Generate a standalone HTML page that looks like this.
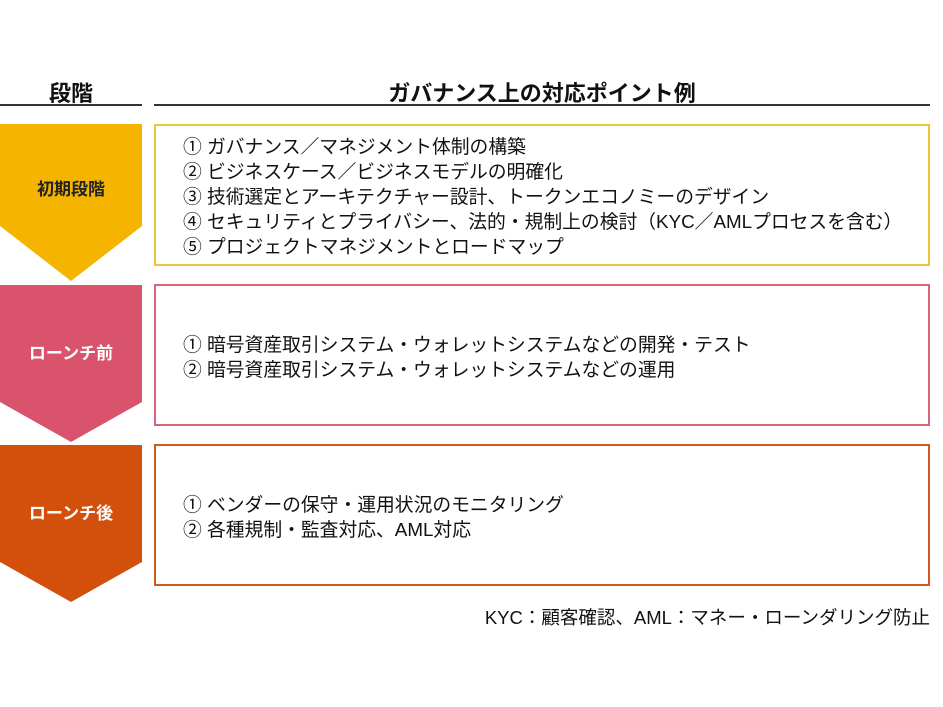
<!DOCTYPE html>
<html><head><meta charset="utf-8"><style>
body{margin:0;width:943px;height:707px;background:#fff;position:relative;overflow:hidden;font-family:"Liberation Sans","Noto Sans CJK JP",sans-serif;color:#111}
.t{position:absolute;white-space:nowrap}
.box{position:absolute;left:154px;width:772px;height:138px;border:2px solid}
.l{position:absolute;left:183px;font-size:18.8px;white-space:nowrap;line-height:25px}
</style></head><body>
<div class="t" style="left:0;width:142px;top:76px;text-align:center;font-size:22px;font-weight:bold">段階</div>
<div class="t" style="left:154px;width:776px;top:76px;text-align:center;font-size:22px;font-weight:bold">ガバナンス上の対応ポイント例</div>
<div style="position:absolute;left:0;top:104px;width:142px;height:2px;background:#333"></div>
<div style="position:absolute;left:154px;top:104px;width:776px;height:2px;background:#333"></div>
<svg style="position:absolute;left:0;top:0" width="943" height="707">
<polygon points="0,124 142,124 142,226 71,281 0,226" fill="#F5B400"/>
<polygon points="0,285 142,285 142,402 71,442 0,402" fill="#D9536D"/>
<polygon points="0,445 142,445 142,562 71,602 0,562" fill="#D3500C"/>
</svg>
<div class="t" style="left:0;width:142px;top:175px;text-align:center;font-size:17px;font-weight:bold;color:#222">初期段階</div>
<div class="t" style="left:0;width:142px;top:339px;text-align:center;font-size:17px;font-weight:bold;color:#fff">ローンチ前</div>
<div class="t" style="left:0;width:142px;top:499px;text-align:center;font-size:17px;font-weight:bold;color:#fff">ローンチ後</div>
<div class="box" style="top:124px;border-color:#EBC53A"></div>
<div class="box" style="top:284px;border-color:#D8647C"></div>
<div class="box" style="top:444px;border-color:#D4581E"></div>
<div class="l" style="top:134px">① ガバナンス／マネジメント体制の構築</div>
<div class="l" style="top:159px">② ビジネスケース／ビジネスモデルの明確化</div>
<div class="l" style="top:184px">③ 技術選定とアーキテクチャー設計、トークンエコノミーのデザイン</div>
<div class="l" style="top:209px">④ セキュリティとプライバシー、法的・規制上の検討（KYC／AMLプロセスを含む）</div>
<div class="l" style="top:234px">⑤ プロジェクトマネジメントとロードマップ</div>
<div class="l" style="top:332px">① 暗号資産取引システム・ウォレットシステムなどの開発・テスト</div>
<div class="l" style="top:357px">② 暗号資産取引システム・ウォレットシステムなどの運用</div>
<div class="l" style="top:492px">① ベンダーの保守・運用状況のモニタリング</div>
<div class="l" style="top:517px">② 各種規制・監査対応、AML対応</div>
<div class="t" style="right:13px;top:604px;font-size:18.5px">KYC：顧客確認、AML：マネー・ローンダリング防止</div>
</body></html>
